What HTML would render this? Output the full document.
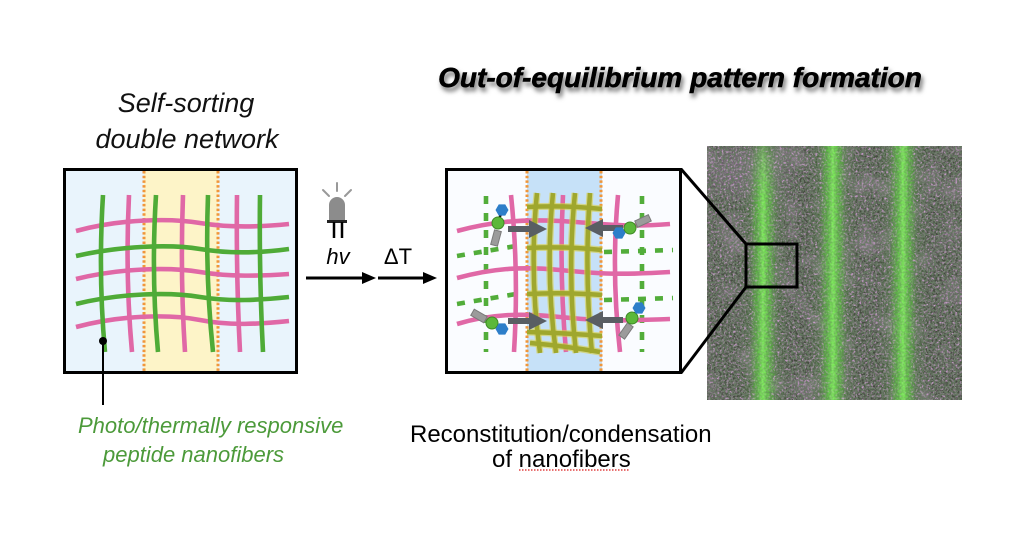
<!DOCTYPE html>
<html><head><meta charset="utf-8"><style>
html,body{margin:0;padding:0;background:#fff;width:1024px;height:544px;overflow:hidden}
svg{display:block}
</style></head><body>
<svg width="1024" height="544" viewBox="0 0 1024 544" xmlns="http://www.w3.org/2000/svg">
<defs>
<filter id="sh" x="-5%" y="-30%" width="110%" height="180%"><feDropShadow dx="2" dy="4" stdDeviation="2.5" flood-color="#000" flood-opacity="0.55"/></filter>
<clipPath id="mc"><rect x="707" y="146" width="255" height="254"/></clipPath>
<filter id="fn1" filterUnits="userSpaceOnUse" x="707" y="146" width="255" height="254"><feTurbulence type="fractalNoise" baseFrequency="0.45" numOctaves="2" seed="5"/><feColorMatrix type="matrix" values="0 0 0 0 0.6  0 0 0 0 0.34  0 0 0 0 0.62  3 0 0 0 -1.3"/></filter>
<filter id="fn2" filterUnits="userSpaceOnUse" x="707" y="146" width="255" height="254"><feTurbulence type="fractalNoise" baseFrequency="0.5" numOctaves="2" seed="11"/><feColorMatrix type="matrix" values="0 0 0 0 0.13  0 0 0 0 0.19  0 0 0 0 0.12  0 3 0 0 -1.05"/></filter>
<filter id="fn4" filterUnits="userSpaceOnUse" x="707" y="146" width="255" height="254"><feTurbulence type="fractalNoise" baseFrequency="0.55" numOctaves="2" seed="23"/><feColorMatrix type="matrix" values="0 0 0 0 0.5  0 0 0 0 0.56  0 0 0 0 0.48  0 0 3 0 -1.7"/></filter>
<filter id="fn3" filterUnits="userSpaceOnUse" x="707" y="146" width="255" height="254"><feTurbulence type="fractalNoise" baseFrequency="0.035" numOctaves="2" seed="2"/><feColorMatrix type="matrix" values="0 0 0 0 0.52  0 0 0 0 0.34  0 0 0 0 0.54  2.5 0 0 0 -1.25"/></filter>
<filter id="bl"><feGaussianBlur stdDeviation="8"/></filter>
<linearGradient id="sg" x1="0" x2="1" y1="0" y2="0">
<stop offset="0" stop-color="#5fd03e" stop-opacity="0"/>
<stop offset="0.25" stop-color="#56c23a" stop-opacity="0.55"/>
<stop offset="0.5" stop-color="#80f25c" stop-opacity="1"/>
<stop offset="0.75" stop-color="#56c23a" stop-opacity="0.55"/>
<stop offset="1" stop-color="#5fd03e" stop-opacity="0"/>
</linearGradient>
<linearGradient id="fade" x1="0" x2="0" y1="0" y2="1">
<stop offset="0" stop-color="#fff" stop-opacity="0.35"/>
<stop offset="0.2" stop-color="#fff" stop-opacity="1"/>
<stop offset="1" stop-color="#fff" stop-opacity="1"/>
</linearGradient>
<mask id="m1" maskUnits="userSpaceOnUse" x="707" y="146" width="255" height="254"><rect x="707" y="146" width="255" height="254" fill="url(#fade)"/></mask>
</defs>

<!-- Title -->
<text x="680" y="87" text-anchor="middle" font-family="Liberation Sans, sans-serif" font-size="28" font-weight="bold" font-style="italic" fill="#000" stroke="#000" stroke-width="0.6" filter="url(#sh)">Out-of-equilibrium pattern formation</text>

<!-- Left labels -->
<text x="186" y="112" text-anchor="middle" font-family="Liberation Sans, sans-serif" font-size="27" font-style="italic" fill="#111">Self-sorting</text>
<text x="187" y="148" text-anchor="middle" font-family="Liberation Sans, sans-serif" font-size="27" font-style="italic" fill="#111">double network</text>

<!-- Left box -->
<rect x="64.5" y="169.5" width="232" height="203" fill="#e9f4fc" stroke="none"/>
<rect x="144" y="171" width="74" height="201" fill="#fdf4c8"/>
<g fill="none" stroke="#f0963a" stroke-width="3" stroke-dasharray="2.5 2.2">
<line x1="144" y1="171" x2="144" y2="372"/><line x1="218" y1="171" x2="218" y2="372"/>
</g>
<g fill="none" stroke-width="4.6" stroke-linecap="butt">
<path d="M76,231 C120,219 170,218 200,223 S260,227 289,224" stroke="#e068a6"/>
<path d="M76,279 C120,268 170,267 200,272 S260,276 289,274" stroke="#e068a6"/>
<path d="M76,327 C120,315 170,314 200,320 S260,324 289,321" stroke="#e068a6"/>
<path d="M129,195 Q125,275 132,352" stroke="#e068a6"/>
<path d="M183,195 Q180,275 185,352" stroke="#e068a6"/>
<path d="M237,195 Q236,275 240,352" stroke="#e068a6"/>
<path d="M76,256 C120,246 170,244 200,249 S260,253 289,249" stroke="#4fab37"/>
<path d="M76,304 C120,293 170,292 200,297 S260,300 289,297" stroke="#4fab37"/>
<path d="M103,195 Q98,275 105,352" stroke="#4fab37"/>
<path d="M156,195 Q151,275 158,352" stroke="#4fab37"/>
<path d="M208,195 Q205,275 213,352" stroke="#4fab37"/>
<path d="M260,195 Q259,275 263,352" stroke="#4fab37"/>
</g>
<rect x="64.5" y="169.5" width="232" height="203" fill="none" stroke="#000" stroke-width="3"/>
<circle cx="103" cy="341" r="4" fill="#000"/>
<line x1="103" y1="341" x2="103" y2="405" stroke="#000" stroke-width="2"/>

<text x="78" y="433" font-family="Liberation Sans, sans-serif" font-size="22" font-style="italic" fill="#4c9a3a">Photo/thermally responsive</text>
<text x="103" y="462" font-family="Liberation Sans, sans-serif" font-size="22" font-style="italic" fill="#4c9a3a">peptide nanofibers</text>

<!-- LED -->
<g stroke="#999" stroke-width="2" stroke-linecap="round">
<line x1="337" y1="183" x2="337" y2="191"/>
<line x1="323" y1="190" x2="329" y2="196"/>
<line x1="351" y1="190" x2="345" y2="196"/>
</g>
<path d="M329,220 L329,205 A8,8 0 0 1 345,205 L345,220 Z" fill="#8c8c8c"/>
<rect x="327" y="220" width="20" height="3" fill="#222"/>
<line x1="334" y1="222" x2="334" y2="238" stroke="#000" stroke-width="2.5"/>
<line x1="342" y1="222" x2="342" y2="238" stroke="#000" stroke-width="2.5"/>

<text x="338" y="264" text-anchor="middle" font-family="Liberation Sans, sans-serif" font-size="22" font-style="italic" fill="#000">hv</text>
<text x="398" y="264" text-anchor="middle" font-family="Liberation Sans, sans-serif" font-size="22" fill="#000">ΔT</text>
<line x1="306" y1="278" x2="365" y2="278" stroke="#000" stroke-width="3"/>
<polygon points="376,278 362,272 362,284" fill="#000"/>
<line x1="378" y1="278" x2="426" y2="278" stroke="#000" stroke-width="3"/>
<polygon points="437,278 423,272 423,284" fill="#000"/>

<!-- Middle box -->
<rect x="446.5" y="169.5" width="234" height="203" fill="#fafcff"/>
<rect x="527" y="171" width="75" height="201" fill="#c6e1f8"/>
<g fill="none" stroke="#f0963a" stroke-width="3" stroke-dasharray="2.5 2.2">
<line x1="527" y1="171" x2="527" y2="372"/><line x1="601" y1="171" x2="601" y2="372"/>
</g>
<!-- green dashes -->
<g fill="none" stroke="#52ad3a" stroke-width="4.6" stroke-dasharray="8 9">
<path d="M486,196 L486,352"/>
<path d="M457,256 L522,245"/>
<path d="M457,304 L522,293"/>
<path d="M642,196 L642,352"/>
<path d="M604,252 L673,250"/>
<path d="M604,300 L673,298"/>
</g>
<!-- pink -->
<g fill="none" stroke="#e068a6" stroke-width="4.6">
<path d="M457,231 C490,222 520,219 560,221 S620,228 670,224"/>
<path d="M457,278 C490,269 520,266 560,270 S620,275 670,272"/>
<path d="M457,324 C490,314 520,313 560,317 S620,321 670,319"/>
<path d="M511,195 Q519,272 514,352"/>
<path d="M563,195 Q559,272 566,352"/>
<path d="M618,195 Q611,272 620,352"/>
</g>
<!-- olive mesh -->
<g fill="none" stroke="#d9cf45" stroke-width="7" stroke-opacity="0.6">
<path d="M527,207 Q565,205 602,209"/>
<path d="M527,248 Q565,246 602,250"/>
<path d="M527,294 Q565,292 602,295"/>
<path d="M527,332 Q565,333 602,336"/>
<path d="M530,343 Q565,346 600,352"/>
<path d="M537,193 Q529,272 540,353"/>
<path d="M553,193 Q545,272 556,353"/>
<path d="M575,193 Q567,272 576,353"/>
<path d="M590,193 Q584,272 592,353"/>
</g>
<g fill="none" stroke="#9fa72e" stroke-width="4.5">
<path d="M527,207 Q565,205 602,209"/>
<path d="M527,248 Q565,246 602,250"/>
<path d="M527,294 Q565,292 602,295"/>
<path d="M527,332 Q565,333 602,336"/>
<path d="M530,343 Q565,346 600,352"/>
<path d="M537,193 Q529,272 540,353"/>
<path d="M553,193 Q545,272 556,353"/>
<path d="M575,193 Q567,272 576,353"/>
<path d="M590,193 Q584,272 592,353"/>
</g>
<!-- gray arrows -->
<g fill="#595e63">
<rect x="508" y="226" width="23" height="6"/><polygon points="529,220 547,229 529,238"/>
<rect x="508" y="318" width="23" height="6"/><polygon points="529,312 547,321 529,330"/>
<rect x="601" y="225" width="22" height="6"/><polygon points="603,219 585,228 603,237"/>
<rect x="601" y="317" width="22" height="6"/><polygon points="603,311 585,320 603,329"/>
</g>
<!-- molecules -->
<g stroke="#111" stroke-width="2.5">
<line x1="502" y1="210" x2="498" y2="223"/>
<line x1="492" y1="323" x2="502" y2="329"/>
<line x1="619" y1="233" x2="630" y2="228"/>
<line x1="639" y1="308" x2="632" y2="318"/>
</g>
<g fill="#9b9b9b" stroke="#7a7a7a" stroke-width="1">
<rect x="-3.5" y="-7.5" width="7" height="15" transform="translate(496,238) rotate(15)"/>
<rect x="-3.5" y="-7.5" width="7" height="15" transform="translate(479,316) rotate(-60)"/>
<rect x="-3.5" y="-7.5" width="7" height="15" transform="translate(643,221) rotate(65)"/>
<rect x="-3.5" y="-7.5" width="7" height="15" transform="translate(626,331) rotate(35)"/>
</g>
<g fill="#5cb83a" stroke="#3d8a25" stroke-width="1">
<circle cx="498" cy="223" r="6"/><circle cx="492" cy="323" r="6"/>
<circle cx="630" cy="228" r="6"/><circle cx="632" cy="318" r="6"/>
</g>
<g fill="#2d7ec9">
<polygon points="508.5,210 505.25,215.6 498.75,215.6 495.5,210 498.75,204.4 505.25,204.4"/>
<polygon points="508.5,329 505.25,334.6 498.75,334.6 495.5,329 498.75,323.4 505.25,323.4"/>
<polygon points="625.5,233 622.25,238.6 615.75,238.6 612.5,233 615.75,227.4 622.25,227.4"/>
<polygon points="645.5,308 642.25,313.6 635.75,313.6 632.5,308 635.75,302.4 642.25,302.4"/>
</g>
<rect x="446.5" y="169.5" width="234" height="203" fill="none" stroke="#000" stroke-width="3"/>

<text x="410" y="442" font-family="Liberation Sans, sans-serif" font-size="24" fill="#000">Reconstitution/condensation</text>
<text x="492" y="467" font-family="Liberation Sans, sans-serif" font-size="24" fill="#000">of nanofibers</text>
<line x1="519" y1="470" x2="629" y2="470" stroke="#e04040" stroke-width="1.5" stroke-dasharray="1.5 1.5"/>

<!-- Micrograph -->
<g clip-path="url(#mc)">
<rect x="707" y="146" width="255" height="254" fill="#434a3e"/>
<rect x="707" y="146" width="255" height="254" filter="url(#fn3)" opacity="0.75"/>
<ellipse cx="748" cy="172" rx="42" ry="24" fill="#9a76a0" opacity="0.55" filter="url(#bl)"/>
<g mask="url(#m1)">
<rect x="749" y="146" width="30" height="254" fill="url(#sg)"/>
<rect x="739" y="146" width="50" height="254" fill="url(#sg)" opacity="0.45"/>
</g>
<rect x="818" y="146" width="30" height="254" fill="url(#sg)"/>
<rect x="808" y="146" width="50" height="254" fill="url(#sg)" opacity="0.45"/>
<rect x="888" y="146" width="30" height="254" fill="url(#sg)"/>
<rect x="878" y="146" width="50" height="254" fill="url(#sg)" opacity="0.45"/>
<rect x="707" y="146" width="255" height="254" filter="url(#fn4)"/>
<rect x="707" y="146" width="255" height="254" filter="url(#fn1)"/>
<rect x="707" y="146" width="255" height="254" filter="url(#fn2)"/>
<g opacity="0.7">
<rect x="751" y="146" width="24" height="254" fill="url(#sg)" mask="url(#m1)"/>
<rect x="821" y="146" width="24" height="254" fill="url(#sg)"/>
<rect x="891" y="146" width="24" height="254" fill="url(#sg)"/>
</g>
</g>
<!-- zoom lines -->
<g stroke="#000" stroke-width="3" fill="none">
<line x1="681" y1="169" x2="746" y2="244"/>
<line x1="681" y1="373" x2="746" y2="287"/>
<rect x="746" y="244" width="51" height="43"/>
</g>
</svg>
</body></html>
